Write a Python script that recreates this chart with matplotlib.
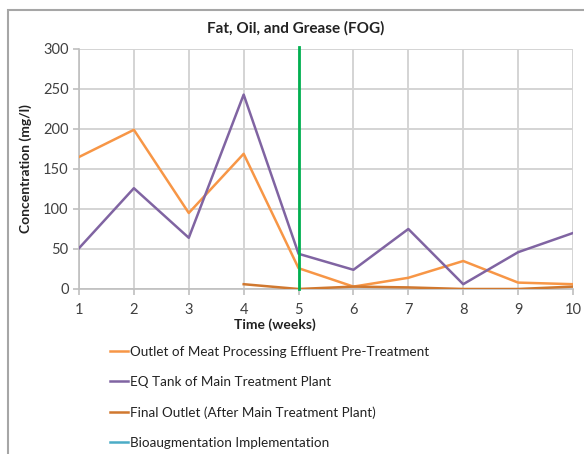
import matplotlib
matplotlib.use("Agg")
import matplotlib.pyplot as plt
from matplotlib.lines import Line2D
from matplotlib.patches import Rectangle

plt.rcParams['font.family'] = ['Lato', 'DejaVu Sans']

weeks = [1, 2, 3, 4, 5, 6, 7, 8, 9, 10]
outlet_pretreatment = [165, 199, 95, 169, 26, 3, 14, 35, 8, 6]
eq_tank = [51, 126, 64, 243, 44, 24, 75, 6, 46, 70]
final_weeks = [4, 5, 6, 7, 8, 9, 10]
final_outlet = [6, 0, 3, 2, 0, 0, 3]
bioaug_week = 5
y_ticks = [0, 50, 100, 150, 200, 250, 300]

labels = ["Outlet of Meat Processing Effluent Pre-Treatment",
          "EQ Tank of Main Treatment Plant",
          "Final Outlet (After Main Treatment Plant)",
          "Bioaugmentation Implementation"]

c_orange = "#F79646"
c_purple = "#8064A2"
c_brown = "#D0782F"
c_green = "#00B050"
c_cyan = "#4BACC6"

fig = plt.figure(figsize=(5.84, 4.54), dpi=100)
ax = fig.add_axes([79/584, 1-289/454, (573-79)/584, (289-49)/454])

ax.plot(weeks, outlet_pretreatment, color=c_orange, lw=1.8, zorder=3)
ax.plot(weeks, eq_tank, color=c_purple, lw=1.8, zorder=3)
ax.plot(final_weeks, final_outlet, color=c_brown, lw=1.8, zorder=3)
ax.plot([bioaug_week, bioaug_week], [0, 302], color=c_green, lw=2.0, zorder=4, clip_on=False)

ax.set_xlim(1, 10)
ax.set_ylim(0, 300)
ax.set_xticks(weeks)
ax.set_yticks(y_ticks)
ax.grid(True, color="#D4D4D4", lw=1.4)
ax.set_axisbelow(True)
for s in ["top", "right"]:
    ax.spines[s].set_visible(False)
for s in ["left", "bottom"]:
    ax.spines[s].set_color("#BFBFBF")
    ax.spines[s].set_linewidth(1.2)
ax.tick_params(axis='both', colors="#BFBFBF", length=4, width=1.2, labelcolor="#404040", labelsize=10.5)
ax.tick_params(axis='x', pad=6)

fig.text(296/584, 1-28/454, "Fat, Oil, and Grease (FOG)", fontsize=11, fontweight='bold',
         color="#222222", ha='center', va='center')
fig.text(275/584, 1-325/454, "Time (weeks)", fontsize=10, fontweight='bold',
         color="#222222", ha='center', va='center')
ax.set_ylabel("Concentration (mg/l)", fontsize=10, fontweight='bold', color="#222222", labelpad=8)

handles = [Line2D([], [], color=c_orange, lw=1.8),
           Line2D([], [], color=c_purple, lw=1.8),
           Line2D([], [], color=c_brown, lw=1.8),
           Line2D([], [], color=c_cyan, lw=1.8)]
fig.legend(handles, labels, loc="upper left", bbox_to_anchor=(110/584, 1-346/454),
           frameon=False, fontsize=9.7, handlelength=1.3, handletextpad=0.15,
           labelspacing=1.35, labelcolor="#222222", borderaxespad=0, borderpad=0)

fig.patches.append(Rectangle((8/584, -0.1), 1.2, 1.1 - 10/454, transform=fig.transFigure,
                             fill=False, edgecolor="#A6A6A6", lw=1.5))

fig.savefig("out.png", dpi=100)
